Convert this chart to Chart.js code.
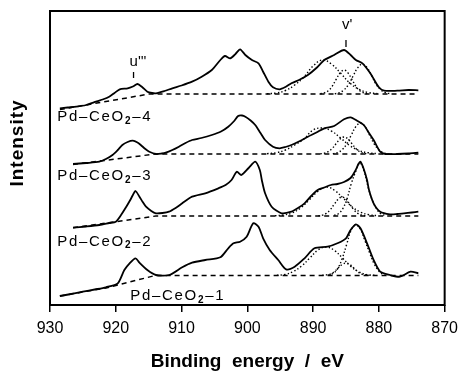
<!DOCTYPE html>
<html>
<head>
<meta charset="utf-8">
<script src="https://cdn.jsdelivr.net/npm/chart.js@4.4.1/dist/chart.umd.min.js"></script>
<style>
  body { margin: 0; background: #fff; }
  canvas { display: block; }
</style>
</head>
<body>
<canvas id="xps" width="465" height="373"></canvas>
<script>
// Ce 3d spectra, [binding energy eV, intensity (offset)]
var spec4 = [[928.5,196.7],[927.3,197.5],[926,198.3],[924.5,200],[923,203.3],[922,205.5],[921,208.3],[920.2,212],[919.4,215.7],[918.2,216.7],[917.4,218.5],[916.7,221],[916,218],[915.2,213.3],[914.5,212],[913.9,211.7],[912.6,214],[911.4,216.7],[910,219.5],[908.4,223.3],[907,228],[905.4,235],[904.1,245],[903.4,249],[902.6,246.7],[901.8,251],[901.1,255.7],[900.3,250],[899.3,245],[898.3,241.7],[897.6,233.3],[896.8,223.3],[896.1,217.7],[895.1,215.7],[894.2,218],[893.3,221.7],[892,225.5],[890.8,230],[889.5,237],[888.3,245],[886.8,250],[885.3,255],[884.3,250],[883.5,245],[882.5,241.7],[881.3,231.7],[880,217.7],[879.2,214.3],[877.2,214.3],[875.5,215],[874,214.7]];
var spec3 = [[926.5,141],[924.5,142],[922.5,143.3],[921.5,146],[920.5,150],[919.7,155],[919,160],[918.2,163],[917.4,164.3],[916.7,162.5],[916.2,160],[915.5,156],[914.9,153.3],[913.9,151],[913,151.5],[912.4,152.3],[911.4,155],[910.4,158.3],[909.4,162],[908.4,165],[907,167],[905.4,170],[904,173.5],[902.9,178.3],[902,184],[901.4,189],[900.8,189.5],[900.3,188.3],[899.5,184.5],[898.8,180],[898,172],[897.3,165],[896.1,158.3],[895.1,156.7],[894.2,158],[893.3,160],[892,164],[890.8,168.3],[889.5,172.5],[888.3,176.7],[886.8,179],[885.3,185.7],[884.3,187.7],[883.3,184.3],[882.3,180],[881.5,172],[880.8,165],[879.8,153.3],[879,151],[877.2,151],[875.5,151.5],[874,152.3]];
var spec2 = [[926.5,77.3],[924.5,78.5],[922.5,80],[921,82],[920,83.3],[919.2,90],[918.4,98.3],[917.8,105],[917.4,110],[917,114],[916.4,108.3],[915.9,103],[915.4,98.3],[914.6,94],[913.9,91.7],[912.9,92],[911.9,93.3],[910.9,97],[909.9,101.7],[908.4,108.3],[906.4,111.7],[904.4,116.7],[903.3,120],[902.4,125],[901.6,133.3],[900.9,130],[899.8,137],[898.8,143.3],[898.1,135],[897.8,125],[897.3,111.7],[896.3,98.3],[894.8,91.7],[893.3,93.3],[892.3,97],[891.3,101.7],[890.3,109],[889.3,115],[888.3,117.5],[887.3,120],[886.3,121],[885.3,123],[884.3,127],[883.6,134],[883.1,141],[882.8,143.3],[882.3,136],[881.8,125],[881.5,115],[880.8,101.7],[879.8,93.3],[878.3,90.7],[877.2,91],[876.2,91.7],[875,92.5],[874,93.3]];
var spec1 = [[928.5,9],[927.2,10.5],[925,13.3],[923.2,15.5],[921.5,17.7],[919.7,21.7],[918.7,35],[917.9,41.7],[917,46.7],[916.4,42.3],[915.2,35],[913.9,30],[911.9,30],[909.9,37.7],[908.4,42.3],[906.4,45],[904.1,47.7],[902.9,56.7],[902.1,61.7],[901.1,63.3],[900.1,68.3],[899.1,81.7],[898.3,78.3],[897.6,66.7],[896.6,55],[895.3,45],[894.1,35.7],[892.8,38.3],[891.3,46.7],[889.8,56.7],[887.8,58.3],[886.3,61.7],[885,66.7],[884.3,75],[883.5,80.7],[882.8,76.7],[881.8,61.7],[880.8,45],[879.8,33.3],[878.3,30],[876.8,28.3],[875.2,33.3],[874,31.7]];

// backgrounds (dashed)
var base4 = [[928.5,195.5],[914.9,211],[874,211]];
var base3 = [[926.5,140.5],[914,151],[874,151]];
var base2 = [[926.5,77.3],[913.9,89],[874,89]];
var base1 = [[928.5,9],[921.5,17],[914,29.5],[874,29.5]];

// fitted v-region components (dotted)
var fit4 = [
  [[897,211.3],[895.6,212],[894.2,214.5],[892.8,220],[891.4,228],[890,239],[888.6,245],[887.2,240.9],[885.8,231.7],[884.4,221.9],[883,215.6],[881.6,212.5],[880.2,211.4]],
  [[888.9,211.3],[888.3,212.1],[887.7,214.2],[887.1,218.7],[886.5,225.6],[885.9,232.1],[885.3,235],[884.7,232.1],[884.1,225.6],[883.5,218.7],[882.9,214.2],[882.3,212.1],[881.7,211.3]],
  [[886.7,211.3],[886,212.3],[885.3,215.1],[884.6,220.6],[883.9,229.3],[883.2,237.4],[882.5,241],[881.8,237.4],[881.1,229.3],[880.4,220.6],[879.7,215.1],[879,212.3],[878.3,211.3]]
];
var fit3 = [
  [[897,151.3],[895.6,152.3],[894.2,155],[892.8,160],[891.4,166],[890,175],[888.6,177],[887.2,173.9],[885.8,166.9],[884.4,159.3],[883,154.5],[881.6,152.2],[880.2,151.3]],
  [[888.9,151.2],[888.3,151.8],[887.7,153.3],[887.1,156.5],[886.5,161.3],[885.9,166],[885.3,168],[884.7,166],[884.1,161.3],[883.5,156.5],[882.9,153.3],[882.3,151.8],[881.7,151.2]],
  [[887,151.3],[886.3,152.3],[885.6,155.2],[884.9,160.9],[884.2,169.9],[883.5,178.3],[882.8,182],[882.1,178.3],[881.4,169.9],[880.7,160.9],[880,155.2],[879.3,152.3],[878.6,151.3]]
];
var fit2 = [
  [[895.8,89.3],[894.5,90],[893.2,92],[891.9,97],[890.6,105],[889.3,113.5],[888,118],[886.7,114.5],[885.4,106.7],[884.1,98.3],[882.8,92.9],[881.5,90.3],[880.2,89.3]],
  [[889.2,89.2],[888.6,89.8],[888,91.6],[887.4,95.2],[886.8,100.6],[886.2,105.7],[885.6,108],[885,105.7],[884.4,100.6],[883.8,95.2],[883.2,91.6],[882.6,89.8],[882,89.2]],
  [[886.8,89.6],[886.15,91.3],[885.5,96.2],[884.85,106],[884.2,121.3],[883.55,133],[882.9,142],[882.25,134],[881.6,117],[880.95,104],[880.3,95.5],[879.65,91],[879,89.5]]
];
var fit1 = [
  [[895.5,29.8],[894.25,30.5],[893,33.5],[891.75,39],[890.5,47],[889.25,55],[888,58],[886.75,54.5],[885.5,46.7],[884.25,38.5],[883,33],[881.75,30.3],[880.5,29.7]],
  [[888.6,29.7],[888,30.1],[887.4,30.8],[886.8,33.2],[886.2,36.9],[885.6,40.5],[885,42],[884.4,40.5],[883.8,36.9],[883.2,33.2],[882.6,30.8],[882,30.1],[881.4,29.7]],
  [[887.7,29.8],[887,31.5],[886.3,36],[885.6,46],[884.9,60.5],[884.2,75],[883.5,80],[882.8,75.5],[882.1,64],[881.4,52],[880.7,41],[880,34],[879.3,30.5],[878.6,29.7]]
];

var xTicks = [930, 920, 910, 900, 890, 880, 870];
var sampleNames = [["Pd\u2013CeO", "2", "\u20134"], ["Pd\u2013CeO", "2", "\u20133"], ["Pd\u2013CeO", "2", "\u20132"], ["Pd\u2013CeO", "2", "\u20131"]];
var peakNames = ["u'''", "v'"];

function pts(arr) { return arr.map(function (p) { return { x: p[0], y: p[1] }; }); }

var datasets = [];
[spec4, spec3, spec2, spec1].forEach(function (s) {
  datasets.push({ data: pts(s), borderColor: '#000', borderWidth: 1.8, pointRadius: 0, tension: 0.25 });
});
[base4, base3, base2, base1].forEach(function (s) {
  datasets.push({ data: pts(s), borderColor: '#000', borderWidth: 1.5, borderDash: [5, 4], pointRadius: 0, tension: 0 });
});
[fit4, fit3, fit2, fit1].forEach(function (group) {
  group.forEach(function (s) {
    datasets.push({ data: pts(s), borderColor: '#000', borderWidth: 1.4, borderDash: [1.4, 2.2], pointRadius: 0, tension: 0.4 });
  });
});

var FONT = '"Liberation Sans", Arial, sans-serif';

var decor = {
  id: 'decor',
  afterDraw: function (chart) {
    var ctx = chart.ctx, a = chart.chartArea;
    var xs = chart.scales.x, ys = chart.scales.y;
    ctx.save();
    // frame
    ctx.strokeStyle = '#000';
    ctx.lineWidth = 2;
    ctx.strokeRect(a.left, a.top, a.right - a.left, a.bottom - a.top);

    ctx.fillStyle = '#000';
    ctx.textBaseline = 'middle';
    ctx.textAlign = 'left';
    // sample labels
    var anchors = [[928.9, 188], [928.9, 129], [928.9, 63.3], [917.8, 9]];
    sampleNames.forEach(function (parts, i) {
      var x = xs.getPixelForValue(anchors[i][0]), y = ys.getPixelForValue(anchors[i][1]);
      ctx.letterSpacing = '1.7px';
      ctx.font = '15px ' + FONT;
      ctx.fillText(parts[0], x, y);
      var w = ctx.measureText(parts[0]).width;
      ctx.font = 'bold 10px ' + FONT;
      ctx.fillText(parts[1], x + w, y + 4);
      var w2 = ctx.measureText(parts[1]).width;
      ctx.font = '15px ' + FONT;
      ctx.fillText(parts[2], x + w + w2, y);
    });
    // peak markers
    var marks = [[917.3, 243, 227, 233], [885, 280, 258, 265]];
    ctx.letterSpacing = '0px';
    ctx.font = '15px ' + FONT;
    ctx.lineWidth = 1.3;
    marks.forEach(function (m, i) {
      var x = xs.getPixelForValue(m[0]);
      ctx.fillText(peakNames[i], x - 4, ys.getPixelForValue(m[1]));
      ctx.beginPath();
      ctx.moveTo(x, ys.getPixelForValue(m[2]));
      ctx.lineTo(x, ys.getPixelForValue(m[3]));
      ctx.stroke();
    });
    // y title
    ctx.font = 'bold 19px ' + FONT;
    ctx.letterSpacing = '1px';
    ctx.textAlign = 'center';
    ctx.translate(18, 143);
    ctx.rotate(-Math.PI / 2);
    ctx.fillText('Intensity', 0, 0);
    ctx.restore();
  }
};

new Chart(document.getElementById('xps').getContext('2d'), {
  type: 'line',
  data: { datasets: datasets },
  options: {
    responsive: false,
    animation: false,
    events: [],
    layout: { padding: { left: 50, right: 18, top: 11, bottom: 0 } },
    plugins: { legend: { display: false }, tooltip: { enabled: false } },
    scales: {
      x: {
        type: 'linear',
        reverse: true,
        min: 870,
        max: 930,
        afterBuildTicks: function (s) { s.ticks = xTicks.map(function (v) { return { value: v }; }); },
        afterFit: function (s) { s.height = 68; },
        grid: { display: true, drawOnChartArea: false, drawTicks: true, tickLength: 7, color: '#000', lineWidth: 1.5 },
        border: { display: false },
        ticks: { color: '#000', font: { family: FONT, size: 16 }, padding: 7, maxRotation: 0 },
        title: {
          display: true,
          text: 'Binding  energy  /  eV',
          color: '#000',
          font: { family: FONT, size: 19, weight: 'bold' },
          padding: { top: 0, bottom: 0 }
        }
      },
      y: { type: 'linear', display: false, min: 0, max: 294 }
    }
  },
  plugins: [decor]
});
</script>
</body>
</html>
